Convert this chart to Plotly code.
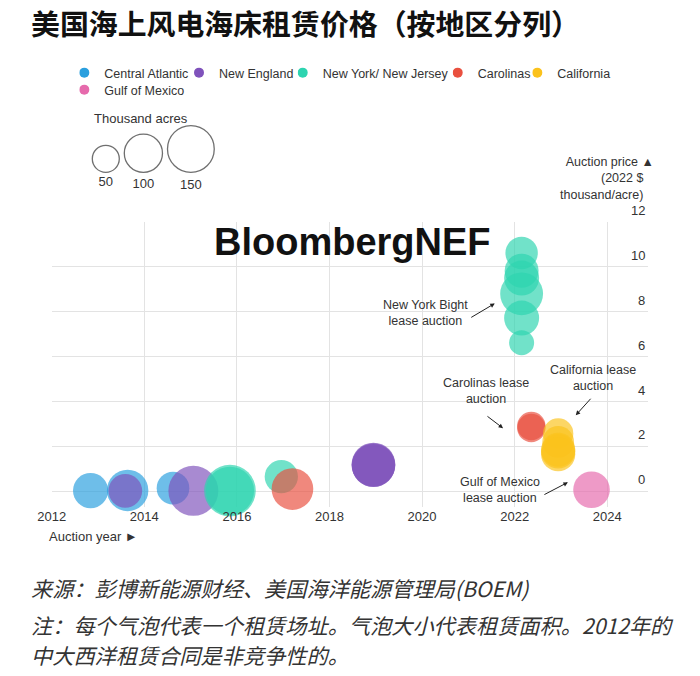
import plotly.graph_objects as go

W, H = 700, 676

# ---- data (auction year, price in 2022 $ thousand/acre, lease size in thousand acres)
regions = ["Central Atlantic", "New England", "New York/ New Jersey", "Carolinas", "California", "Gulf of Mexico"]
colors = ["#2a9fde", "#7f52bb", "#2dd4b0", "#e9503f", "#fbc21c", "#e66aac"]

central_year = [2012.84, 2013.64, 2014.62]
central_price = [0.03, 0.04, 0.14]
central_acres = [85, 118, 73]

ne_year = [2013.59, 2015.06, 2018.95, 2018.95, 2018.95]
ne_price = [0.02, 0.02, 1.15, 1.17, 1.19]
ne_acres = [78, 171, 128, 130, 132]

nynj_year = [2015.85, 2015.85, 2016.96, 2022.15, 2022.15, 2022.15, 2022.15, 2022.15, 2022.15]
nynj_price = [0.02, 0.03, 0.65, 10.62, 9.83, 9.5, 8.8, 7.72, 6.62]
nynj_acres = [160, 183, 76, 72, 79, 84, 126, 84, 43]

carolinas_year = [2017.2, 2022.36, 2022.36]
carolinas_price = [0.1, 2.82, 2.91]
carolinas_acres = [119, 55, 55]

california_year = [2022.94, 2022.94, 2022.94, 2022.94, 2022.94]
california_price = [2.58, 2.2, 1.85, 1.78, 1.65]
california_acres = [63, 69, 80, 80, 80]

gulf_year = [2023.66]
gulf_price = [0.07]
gulf_acres = [92]

size_legend = [50, 100, 150]
x_ticks = [2012, 2014, 2016, 2018, 2020, 2022, 2024]
y_ticks = [0, 2, 4, 6, 8, 10, 12]

series = [
    (central_year, central_price, central_acres),
    (ne_year, ne_price, ne_acres),
    (nynj_year, nynj_price, nynj_acres),
    (carolinas_year, carolinas_price, carolinas_acres),
    (california_year, california_price, california_acres),
    (gulf_year, gulf_price, gulf_acres),
]

FONT = "Liberation Sans, Arial, sans-serif"
CJK = "Noto Sans CJK SC"
TXT = "#333333"
SIZEREF = 2 * 50 / 27 ** 2  # 50k acres -> 27 px bubble


def px_x(p):
    return p / W


def px_y(p):
    return 1 - p / H


fig = go.Figure()

for name, col, (xs, ys, ss) in zip(regions, colors, series):
    fig.add_trace(go.Scatter(
        x=xs, y=ys, mode="markers", showlegend=False, cliponaxis=False,
        marker=dict(size=ss, sizemode="area", sizeref=SIZEREF, color=col,
                    opacity=0.68, line=dict(width=0)),
        hovertemplate=name + "<br>%{x}<br>%{y}<extra></extra>",
    ))

# colour key: one small legend per entry so the spacing follows the original
key_pos = [(89.3, 73), (204, 73), (307.7, 73), (462.7, 73), (542.3, 73), (89.3, 90)]
legends = {}
for i, (name, col) in enumerate(zip(regions, colors)):
    lid = "legend" if i == 0 else f"legend{i + 1}"
    fig.add_trace(go.Scatter(x=[None], y=[None], mode="markers", name=name, legend=lid,
                             marker=dict(size=10, color=col)))
    dx, dy = key_pos[i]
    legends[lid] = dict(orientation="h", x=px_x(dx - 10), y=px_y(dy - 15),
                        xanchor="left", yanchor="top", indentation=-15,
                        font=dict(family=FONT, size=12.5, color=TXT),
                        bgcolor="rgba(0,0,0,0)")

# bubble size key, drawn on a pixel-scaled helper axis
diam = [2 * (a / (2 * SIZEREF)) ** 0.5 for a in size_legend]
key_x, key_y = [], []
left = 92.3
for d in diam:
    key_x.append(left + d / 2)
    key_y.append(172.3 - d / 2)
    left += d + 5
fig.add_trace(go.Scatter(
    x=key_x, y=key_y, xaxis="x2", yaxis="y2", mode="markers+text",
    text=[str(a) for a in size_legend], textposition="bottom center",
    textfont=dict(family=FONT, size=13, color=TXT),
    showlegend=False, cliponaxis=False, hoverinfo="skip",
    marker=dict(size=size_legend, sizemode="area", sizeref=SIZEREF,
                color="rgba(0,0,0,0)", line=dict(width=1.3, color="#333333")),
))

ann = []


def text(t, x, y, size=13, xanchor="left", yanchor="middle", **kw):
    ann.append(dict(text=t, x=x, y=y, xref="paper", yref="paper", showarrow=False,
                    xanchor=xanchor, yanchor=yanchor,
                    font=dict(family=kw.pop("family", FONT), size=size, color=kw.pop("color", TXT),
                              weight=kw.pop("weight", "normal"), style=kw.pop("style", "normal")),
                    **kw))


text("美国海上风电海床租赁价格（按地区分列）", px_x(29), px_y(22), size=28.9, family=CJK, weight="bold", color="#111111")
text("Thousand acres", px_x(92), px_y(119))
text("Auction price ▲<br>(2022 $\u00a0\u00a0\u00a0<br>thousand/acre)\u00a0\u00a0\u00a0", px_x(656), px_y(179),
     size=12.5, xanchor="right", align="right")
text("Auction year ►", px_x(47), px_y(536))
text("BloombergNEF", px_x(352), px_y(242), size=38, xanchor="center", weight="bold", color="#111111")
text("来源：彭博新能源财经、美国海洋能源管理局(BOEM)", px_x(29), px_y(587), size=21.2, family=CJK, style="italic")
text("注：每个气泡代表一个租赁场址。气泡大小代表租赁面积。2012年的", px_x(29), px_y(624), size=21.2, family=CJK, style="italic")
text("中大西洋租赁合同是非竞争性的。", px_x(29), px_y(654), size=21.2, family=CJK, style="italic")

# y tick labels sit above their gridlines at the right edge
for v in y_ticks:
    ann.append(dict(text=str(v), x=px_x(647), y=v, xref="paper", yref="y", showarrow=False,
                    xanchor="right", yanchor="bottom", yshift=2,
                    font=dict(family=FONT, size=13, color=TXT)))

# callouts in data coordinates
for t, x, y in [("New York Bight<br>lease auction", 2020.08, 7.95),
                ("Carolinas lease<br>auction", 2021.38, 4.45),
                ("California lease<br>auction", 2023.69, 5.03),
                ("Gulf of Mexico<br>lease auction", 2021.68, 0.04)]:
    ann.append(dict(text=t, x=x, y=y, xref="x", yref="y", showarrow=False,
                    font=dict(family=FONT, size=12.5, color=TXT)))

for (tx, ty), (hx, hy) in [((2021.03, 7.71), (2021.57, 8.37)),
                           ((2021.38, 3.39), (2021.75, 2.81)),
                           ((2023.67, 4.19), (2023.32, 3.39)),
                           ((2022.61, -0.18), (2023.15, 0.4))]:
    ann.append(dict(text="", x=hx, y=hy, ax=tx, ay=ty, xref="x", yref="y", axref="x", ayref="y",
                    showarrow=True, arrowhead=2, arrowsize=0.9, arrowwidth=1, arrowcolor="#222222"))

fig.update_layout(
    width=W, height=H,
    margin=dict(l=0, r=0, t=0, b=0, autoexpand=False),
    paper_bgcolor="white", plot_bgcolor="white",
    font=dict(family=FONT, size=13, color=TXT),
    annotations=ann,
    xaxis=dict(domain=[px_x(51.7), px_x(648)], range=[2012, 2024.88],
               tickvals=x_ticks, ticks="", showline=False, zeroline=False,
               gridcolor="#e3e3e3", gridwidth=1, tickfont=dict(size=13, color=TXT)),
    yaxis=dict(domain=[px_y(507), px_y(222)], range=[-0.7, 12], tickvals=y_ticks,
               showticklabels=False, ticks="", showline=False, zeroline=False,
               gridcolor="#e3e3e3", gridwidth=1),
    xaxis2=dict(domain=[px_x(80), px_x(240)], range=[80, 240], visible=False, anchor="y2"),
    yaxis2=dict(domain=[px_y(200), px_y(100)], range=[200, 100], visible=False, anchor="x2"),
    hovermode="closest",
    **legends,
)

# drop the browser's default page margin so the 700x676 figure fills the window
fig.write_html("out.html", config={"displayModeBar": False},
               post_script="document.body.style.margin='0';")
